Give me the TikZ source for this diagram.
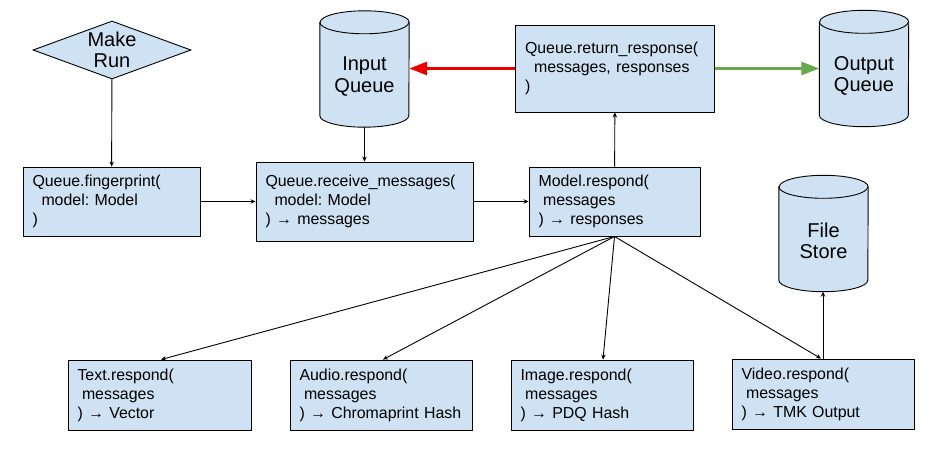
\documentclass[tikz,border=0pt]{standalone}
\usepackage{fontspec}
\setmainfont{Liberation Sans}
\usepackage{tikz}
\usetikzlibrary{arrows.meta,positioning,shapes.geometric,backgrounds}
\usepackage{xcolor}
\definecolor{boxblue}{HTML}{CFE2F3}
\definecolor{flowred}{RGB}{235,0,0}
\definecolor{flowgreen}{HTML}{6AA84F}
\newcommand{\diagfont}{\fontsize{15.9}{19}\selectfont\frenchspacing}
\newcommand{\bigfont}{\fontsize{20}{21.5}\selectfont}
% pushes the label of a store down a little
\newcommand{\lowstrut}{\rule{0pt}{29pt}}
% cylinder drawn round a store node
\newcommand{\storeshape}[1]{%
  \filldraw[fill=boxblue, line width=0.9pt]
    ([yshift=-11.5pt]#1.north west) -- ([yshift=11.5pt]#1.south west)
    arc[start angle=180, end angle=360, x radius=44.5pt, y radius=11.5pt]
    -- ([yshift=-11.5pt]#1.north east)
    arc[start angle=0, end angle=180, x radius=44.5pt, y radius=11.5pt] -- cycle;
  \draw[line width=0.9pt] ([yshift=-11.5pt]#1.north west)
    arc[start angle=180, end angle=360, x radius=44.5pt, y radius=11.5pt];}

\tikzset{
  codebox/.style={draw, fill=boxblue, rectangle, line width=0.9pt,
    inner xsep=9.5pt, inner ysep=0pt, align=left, font=\diagfont},
  store/.style={rectangle, align=center, font=\bigfont,
    minimum width=89pt, minimum height=116pt, inner sep=0pt},
  flow/.style={line width=0.9pt, -{Stealth[length=5pt,width=4.5pt]}},
  bigflow/.style={line width=3pt, -{Triangle[length=18pt,width=13pt]}}
}

\begin{document}
\begin{tikzpicture}[x=1pt,y=-1pt]
    \useasboundingbox (0,0) rectangle (949,457);
    % Top row
    \node[draw, fill=boxblue, diamond, aspect=2.72, line width=0.9pt,
      inner sep=0pt, minimum width=158pt, minimum height=58pt,
      align=center, font=\bigfont] (run) at (112,50) {Make\\Run};
    \node[store] (inq) at (364.5,69) {\lowstrut Input\\Queue};
    \node[codebox, text width=180pt, minimum height=87pt] (ret) at (615,68.5)
      {Queue.return\_response(\\\hspace{9pt}messages, responses\\)};
    \node[store] (outq) at (864,68.5) {\lowstrut Output\\Queue};
    % Middle row
    \node[codebox, text width=158pt, minimum height=69pt] (fp) at (111.5,201.5)
      {Queue.fingerprint(\\\hspace{9pt}model: Model\\)};
    \node[codebox, text width=198pt, minimum height=79pt] (recv) at (364.5,201.5)
      {Queue.receive\_messages(\\\hspace{9pt}model: Model\\) → messages};
    \node[codebox, text width=152pt, minimum height=69pt] (model) at (614.5,201.5)
      {Model.respond(\\\hspace{4.5pt}messages\\) → responses};
    \node[store] (files) at (823.5,233.5) {\lowstrut File\\Store};
    % Bottom row
    \node[codebox, text width=164pt, minimum height=70pt] (text) at (159.5,395)
      {Text.respond(\\\hspace{4.5pt}messages\\) → Vector};
    \node[codebox, text width=163pt, minimum height=70pt] (audio) at (381,395)
      {Audio.respond(\\\hspace{4.5pt}messages\\) → Chromaprint Hash};
    \node[codebox, text width=163pt, minimum height=70pt] (image) at (602,395)
      {Image.respond(\\\hspace{4.5pt}messages\\) → PDQ Hash};
    \node[codebox, text width=163pt, minimum height=70pt] (video) at (823,394)
      {Video.respond(\\\hspace{4.5pt}messages\\) → TMK Output};
    % Stores
    \begin{scope}[on background layer]
      \storeshape{inq}
      \storeshape{outq}
      \storeshape{files}
    \end{scope}
    % Connectors
    \draw[flow] (run) -- (fp);
    \draw[flow] (fp) -- (recv);
    \draw[flow] (inq.south) -- (recv.north -| inq.south);
    \draw[flow] (recv) -- (model);
    \draw[flow] (model) -- (ret);
    \draw[bigflow, flowred] (ret.west) -- (ret.west -| inq.east);
    \draw[bigflow, flowgreen] (ret.east) -- (ret.east -| outq.west);
    \draw[flow] (model.south) -- ([xshift=1.5pt]text.north);
    \draw[flow] (model.south) -- ([xshift=2pt]audio.north);
    \draw[flow] (model.south) -- ([xshift=1pt]image.north);
    \draw[flow] (model.south) -- ([xshift=-2pt]video.north);
    \draw[flow] (video.north) -- (video.north |- files.south);
  \end{tikzpicture}
\end{document}
